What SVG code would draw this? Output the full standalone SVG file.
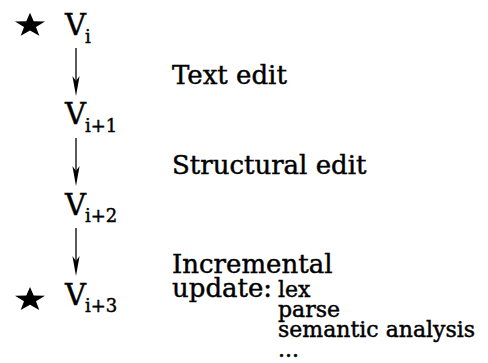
<svg xmlns="http://www.w3.org/2000/svg" width="488" height="363" viewBox="0 0 488 363">
<style>
text{font-family:"DejaVu Serif","Liberation Serif",serif;fill:#000;stroke:#000;stroke-width:0.45}
.big{font-size:26px}
.v{font-size:29px}
.sub{font-size:18px}
.small{font-size:22px}
.conn line{stroke:#000;stroke-width:1.3}
.conn path{fill:#000;stroke:none}
</style>
<defs>
<path id="star" d="M0,-12.72 L3.7,-4.1 L15.03,-3.93 L5.99,1.57 L9.29,10.29 L0,5.07 L-9.29,10.29 L-5.99,1.57 L-15.03,-3.93 L-3.7,-4.1 Z" fill="#000"/>
<path id="head" d="M0,0 L-3.6,-20 L0,-15 L3.6,-20 Z"/>
</defs>
<rect width="488" height="363" fill="#fff"/>
<g id="v0">
<use href="#star" x="30" y="25.4"/>
<text class="v" x="65" y="35">V</text><text class="sub" x="85" y="43">i</text>
</g>
<g id="v1">
<text class="v" x="65" y="124">V</text><text class="sub" x="85" y="132">i+1</text>
</g>
<g id="v2">
<text class="v" x="65" y="215">V</text><text class="sub" x="85" y="222">i+2</text>
</g>
<g id="v3">
<use href="#star" x="30" y="299.7"/>
<text class="v" x="65" y="305">V</text><text class="sub" x="85" y="312">i+3</text>
</g>
<g id="label-text-edit"><text class="big" x="172" y="84">Text edit</text></g>
<g id="label-structural-edit"><text class="big" x="172" y="174">Structural edit</text></g>
<g id="label-incremental">
<text class="big" x="172" y="273">Incremental</text>
<text class="big" x="172" y="297">update:</text>
<text class="small" x="278" y="297">lex</text>
<text class="small" x="278" y="317">parse</text>
<text class="small" x="278" y="337">semantic analysis</text>
<text class="small" x="278" y="357">...</text>
</g>
<g class="conn" id="connectors">
<line x1="76" y1="48" x2="76" y2="82"/><use href="#head" x="76" y="96"/>
<line x1="76" y1="138" x2="76" y2="172"/><use href="#head" x="76" y="186"/>
<line x1="76" y1="228" x2="76" y2="262"/><use href="#head" x="76" y="276"/>
</g>
</svg>
